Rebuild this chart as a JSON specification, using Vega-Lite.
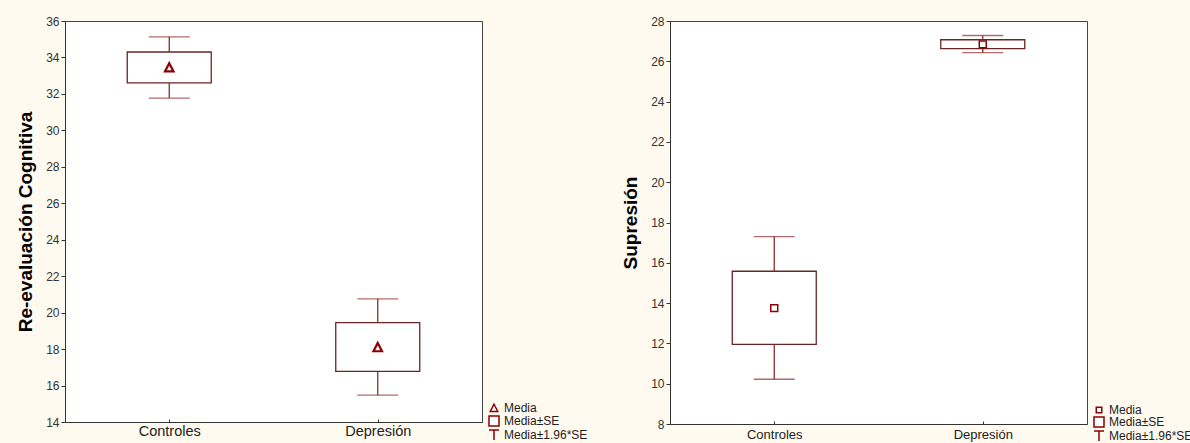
{
  "$schema": "https://vega.github.io/schema/vega-lite/v6.json",
  "background": "#fffaf0",
  "padding": {"left": 16, "top": 14, "right": 0, "bottom": 0},
  "spacing": 188,
  "bounds": "flush",
  "datasets": {
    "reval": [
      {"grupo": "Controles", "media": 33.45, "se_lo": 32.6, "se_hi": 34.3, "ci_lo": 31.77, "ci_hi": 35.13, "leg": "Media"},
      {"grupo": "Depresión", "media": 18.1, "se_lo": 16.78, "se_hi": 19.45, "ci_lo": 15.47, "ci_hi": 20.75, "leg": "Media"}
    ],
    "supr": [
      {"grupo": "Controles", "media": 13.75, "se_lo": 11.95, "se_hi": 15.58, "ci_lo": 10.22, "ci_hi": 17.3, "leg": "Media"},
      {"grupo": "Depresión", "media": 26.84, "se_lo": 26.63, "se_hi": 27.07, "ci_lo": 26.43, "ci_hi": 27.28, "leg": "Media"}
    ]
  },
  "resolve": {"scale": {"shape": "independent", "y": "independent"}, "legend": {"shape": "independent"}},
  "hconcat": [
    {
      "width": 417,
      "height": 401,
      "data": {"name": "reval"},
      "encoding": {
        "x": {
          "field": "grupo", "type": "nominal", "sort": null,
          "scale": {"type": "point", "padding": 0.5},
          "axis": {"title": null, "labelAngle": 0, "labelFontSize": 14.5, "labelColor": "#222", "labelPadding": 5, "tickSize": -3, "tickColor": "#333", "domainColor": "#333"}
        }
      },
      "layer": [
        {
          "mark": {"type": "rule", "color": "#8e2d2d", "strokeWidth": 1.3},
          "encoding": {
            "y": {"field": "ci_lo", "type": "quantitative", "title": "Re-evaluación Cognitiva",
              "scale": {"domain": [14, 36], "nice": false, "zero": false},
              "axis": {"values": [14, 16, 18, 20, 22, 24, 26, 28, 30, 32, 34, 36], "tickCount": 12, "labelOverlap": false, "grid": false, "labelFontSize": 12, "labelColor": "#333", "tickSize": 4, "tickColor": "#333", "domainColor": "#333", "titleFontSize": 19, "titleFontWeight": "bold", "titleColor": "#000", "titlePadding": 10}},
            "y2": {"field": "ci_hi"}
          }
        },
        {
          "mark": {"type": "tick", "color": "#8e2d2d", "size": 41, "thickness": 1.3},
          "encoding": {"y": {"field": "ci_lo", "type": "quantitative", "title": "Re-evaluación Cognitiva"}}
        },
        {
          "mark": {"type": "tick", "color": "#8e2d2d", "size": 41, "thickness": 1.3},
          "encoding": {"y": {"field": "ci_hi", "type": "quantitative", "title": "Re-evaluación Cognitiva"}}
        },
        {
          "mark": {"type": "bar", "width": 84, "fill": "white", "stroke": "#6b2424", "strokeWidth": 1.3},
          "encoding": {
            "y": {"field": "se_lo", "type": "quantitative", "title": "Re-evaluación Cognitiva"},
            "y2": {"field": "se_hi"}
          }
        },
        {
          "mark": {"type": "point", "filled": false, "fill": "white", "stroke": "#8b0000", "strokeWidth": 2.2, "size": 130, "opacity": 1},
          "encoding": {
            "y": {"field": "media", "type": "quantitative", "title": "Re-evaluación Cognitiva"},
            "shape": {
              "field": "leg", "type": "nominal",
              "scale": {"domain": ["Media", "Media±SE", "Media±1.96*SE"], "range": ["M0,-0.75L0.75,0.7L-0.75,0.7Z", "square", "M-1,-1L1,-1M0,-1L0,1"]},
              "legend": {"title": null, "orient": "none", "legendX": 423, "legendY": 381, "labelFontSize": 12, "labelColor": "#222", "symbolSize": 100, "rowPadding": -3, "labelOffset": 4,
                "encode": {"symbols": {"update": {"stroke": {"value": "#8b0000"}, "fill": {"value": "white"}, "strokeWidth": {"value": 1.7}, "opacity": {"value": 1}}}}}
            }
          }
        }
      ]
    },
    {
      "width": 417,
      "height": 403,
      "data": {"name": "supr"},
      "encoding": {
        "x": {
          "field": "grupo", "type": "nominal", "sort": null,
          "scale": {"type": "point", "padding": 0.5},
          "axis": {"title": null, "labelAngle": 0, "labelFontSize": 13, "labelColor": "#222", "labelPadding": 7, "tickSize": -3, "tickColor": "#333", "domainColor": "#333"}
        }
      },
      "layer": [
        {
          "mark": {"type": "rule", "color": "#8e2d2d", "strokeWidth": 1.3},
          "encoding": {
            "y": {"field": "ci_lo", "type": "quantitative", "title": "Supresión",
              "scale": {"domain": [8, 28], "nice": false, "zero": false},
              "axis": {"values": [8, 10, 12, 14, 16, 18, 20, 22, 24, 26, 28], "tickCount": 11, "labelOverlap": false, "grid": false, "labelFontSize": 12, "labelColor": "#333", "tickSize": 4, "tickColor": "#333", "domainColor": "#333", "titleFontSize": 19, "titleFontWeight": "bold", "titleColor": "#000", "titlePadding": 10}},
            "y2": {"field": "ci_hi"}
          }
        },
        {
          "mark": {"type": "tick", "color": "#8e2d2d", "size": 41, "thickness": 1.3},
          "encoding": {"y": {"field": "ci_lo", "type": "quantitative", "title": "Supresión"}}
        },
        {
          "mark": {"type": "tick", "color": "#8e2d2d", "size": 41, "thickness": 1.3},
          "encoding": {"y": {"field": "ci_hi", "type": "quantitative", "title": "Supresión"}}
        },
        {
          "mark": {"type": "bar", "width": 84, "fill": "white", "stroke": "#6b2424", "strokeWidth": 1.3},
          "encoding": {
            "y": {"field": "se_lo", "type": "quantitative", "title": "Supresión"},
            "y2": {"field": "se_hi"}
          }
        },
        {
          "mark": {"type": "point", "filled": false, "fill": "white", "stroke": "#8b0000", "strokeWidth": 1.5, "size": 160, "opacity": 1},
          "encoding": {
            "y": {"field": "media", "type": "quantitative", "title": "Supresión"},
            "shape": {
              "field": "leg", "type": "nominal",
              "scale": {"domain": ["Media", "Media±SE", "Media±1.96*SE"], "range": ["M-0.55,-0.55H0.55V0.55H-0.55Z", "square", "M-1,-1L1,-1M0,-1L0,1"]},
              "legend": {"title": null, "orient": "none", "legendX": 423, "legendY": 383, "labelFontSize": 12, "labelColor": "#222", "symbolSize": 100, "rowPadding": -3, "labelOffset": 4,
                "encode": {"symbols": {"update": {"stroke": {"value": "#8b0000"}, "fill": {"value": "white"}, "strokeWidth": {"value": 1.4}, "opacity": {"value": 1}}}}}
            }
          }
        }
      ]
    }
  ],
  "config": {
    "font": "Liberation Sans",
    "view": {"stroke": "#444", "fill": "white", "strokeWidth": 1},
    "axis": {"labelFont": "Liberation Sans", "titleFont": "Liberation Sans"},
    "legend": {"labelFont": "Liberation Sans"}
  }
}
